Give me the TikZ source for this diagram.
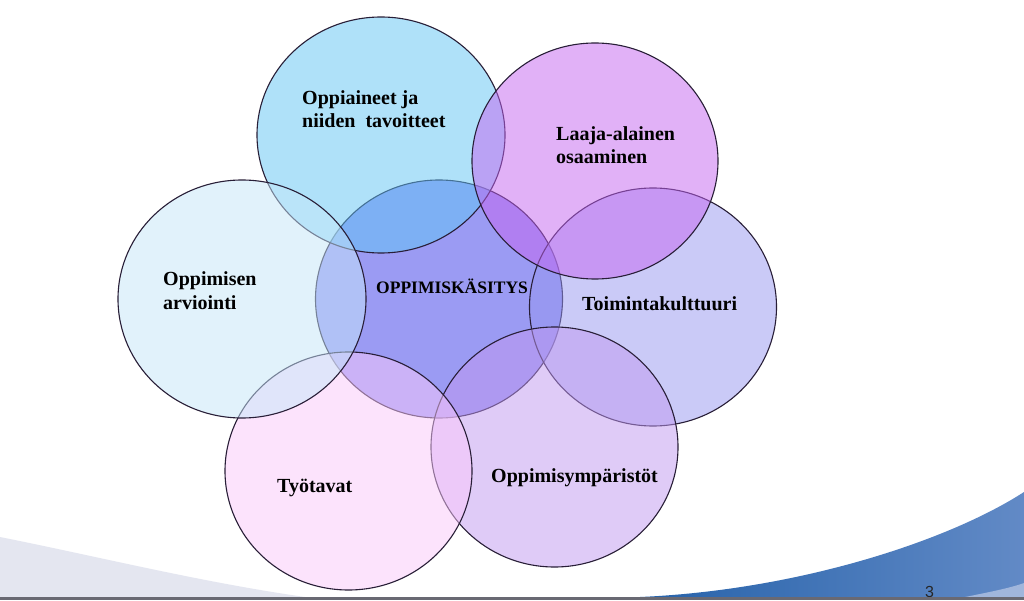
\documentclass[tikz,border=0pt]{standalone}
\usepackage{fontspec}
\setmainfont{Liberation Serif}
\newfontfamily\pagenumfont{Liberation Sans}
\definecolor{cCenter}{RGB}{57,57,233}
\definecolor{cToim}{RGB}{151,151,241}
\definecolor{cOppi}{RGB}{97,197,245}
\definecolor{cLaaja}{RGB}{197,101,241}
\definecolor{cYmp}{RGB}{193,153,241}
\definecolor{cTyo}{RGB}{251,201,251}
\definecolor{cArv}{RGB}{197,231,249}
\definecolor{cEdge}{RGB}{40,30,55}
\definecolor{cSwoopL}{RGB}{228,230,240}
\definecolor{cBlueA}{RGB}{38,98,170}
\definecolor{cBlueB}{RGB}{98,138,198}
\definecolor{cBlueLight}{RGB}{160,182,220}
\definecolor{cBar}{RGB}{105,105,115}
\begin{document}
\begin{tikzpicture}[x=1pt,y=1pt,
  bubble/.style={draw=cEdge, line width=1.1pt, fill opacity=0.5},
  lbl/.style={inner sep=0pt, anchor=base west, text=black,
    font=\fontsize{20}{24}\selectfont\bfseries},
  lblc/.style={inner sep=0pt, anchor=base west, text=black,
    font=\fontsize{17.5}{21}\selectfont\bfseries}]
\useasboundingbox (0,0) rectangle (1024,600);
\fill[white] (0,0) rectangle (1024,600);
% background swooshes
\fill[cSwoopL] (0,63) .. controls (100,43) and (200,18) .. (305,3) -- (0,3) -- cycle;
\shade[left color=cBlueA, right color=cBlueB]
  (640,3) .. controls (800,10) and (950,60) .. (1024,108) -- (1024,3) -- cycle;
\fill[cBlueLight] (965,3) .. controls (990,8) and (1010,12) .. (1024,17) -- (1024,3) -- cycle;
\node[inner sep=0pt, anchor=base west, text=black!85,
  font=\pagenumfont\fontsize{16}{18}\selectfont] (pnum) at (925,3) {3};
\fill[cBar] (0,0) rectangle (1024,3);
% circle centres
\coordinate (cC) at (439,301);
\coordinate (cT) at (653,293);
\coordinate (cO) at (381,465);
\coordinate (cL) at (595,439);
\coordinate (cY) at (554.5,153);
\coordinate (cW) at (348.5,129);
\coordinate (cA) at (242,301);
% circles (bottom to top)
\draw[bubble, fill=cCenter] (cC) ellipse [x radius=123.5, y radius=119];
\draw[bubble, fill=cToim] (cT) ellipse [x radius=123.5, y radius=119];
\draw[bubble, fill=cOppi] (cO) ellipse [x radius=124, y radius=118];
\draw[bubble, fill=cLaaja] (cL) ellipse [x radius=123, y radius=118];
\draw[bubble, fill=cYmp] (cY) ellipse [x radius=123.5, y radius=120];
\draw[bubble, fill=cTyo] (cW) ellipse [x radius=123.5, y radius=119];
\draw[bubble, fill=cArv] (cA) ellipse [x radius=124, y radius=119];
% labels
\node[lbl] (t1a) at (302,495) {Oppiaineet ja};
\node[lbl] (t1b) at (302,472) {niiden\ \ tavoitteet};
\node[lbl] (t2a) at (556,459) {Laaja-alainen};
\node[lbl] (t2b) at (556,436) {osaaminen};
\node[lbl] (t3a) at (163,314) {Oppimisen};
\node[lbl] (t3b) at (163,290) {arviointi};
\node[lblc] (t0) at (376,306) {OPPIMISKÄSITYS};
\node[lbl] (t4) at (582,289) {Toimintakulttuuri};
\node[lbl] (t5) at (277,108) {Työtavat};
\node[lbl] (t6) at (491,118) {Oppimisympäristöt};
\end{tikzpicture}
\end{document}
